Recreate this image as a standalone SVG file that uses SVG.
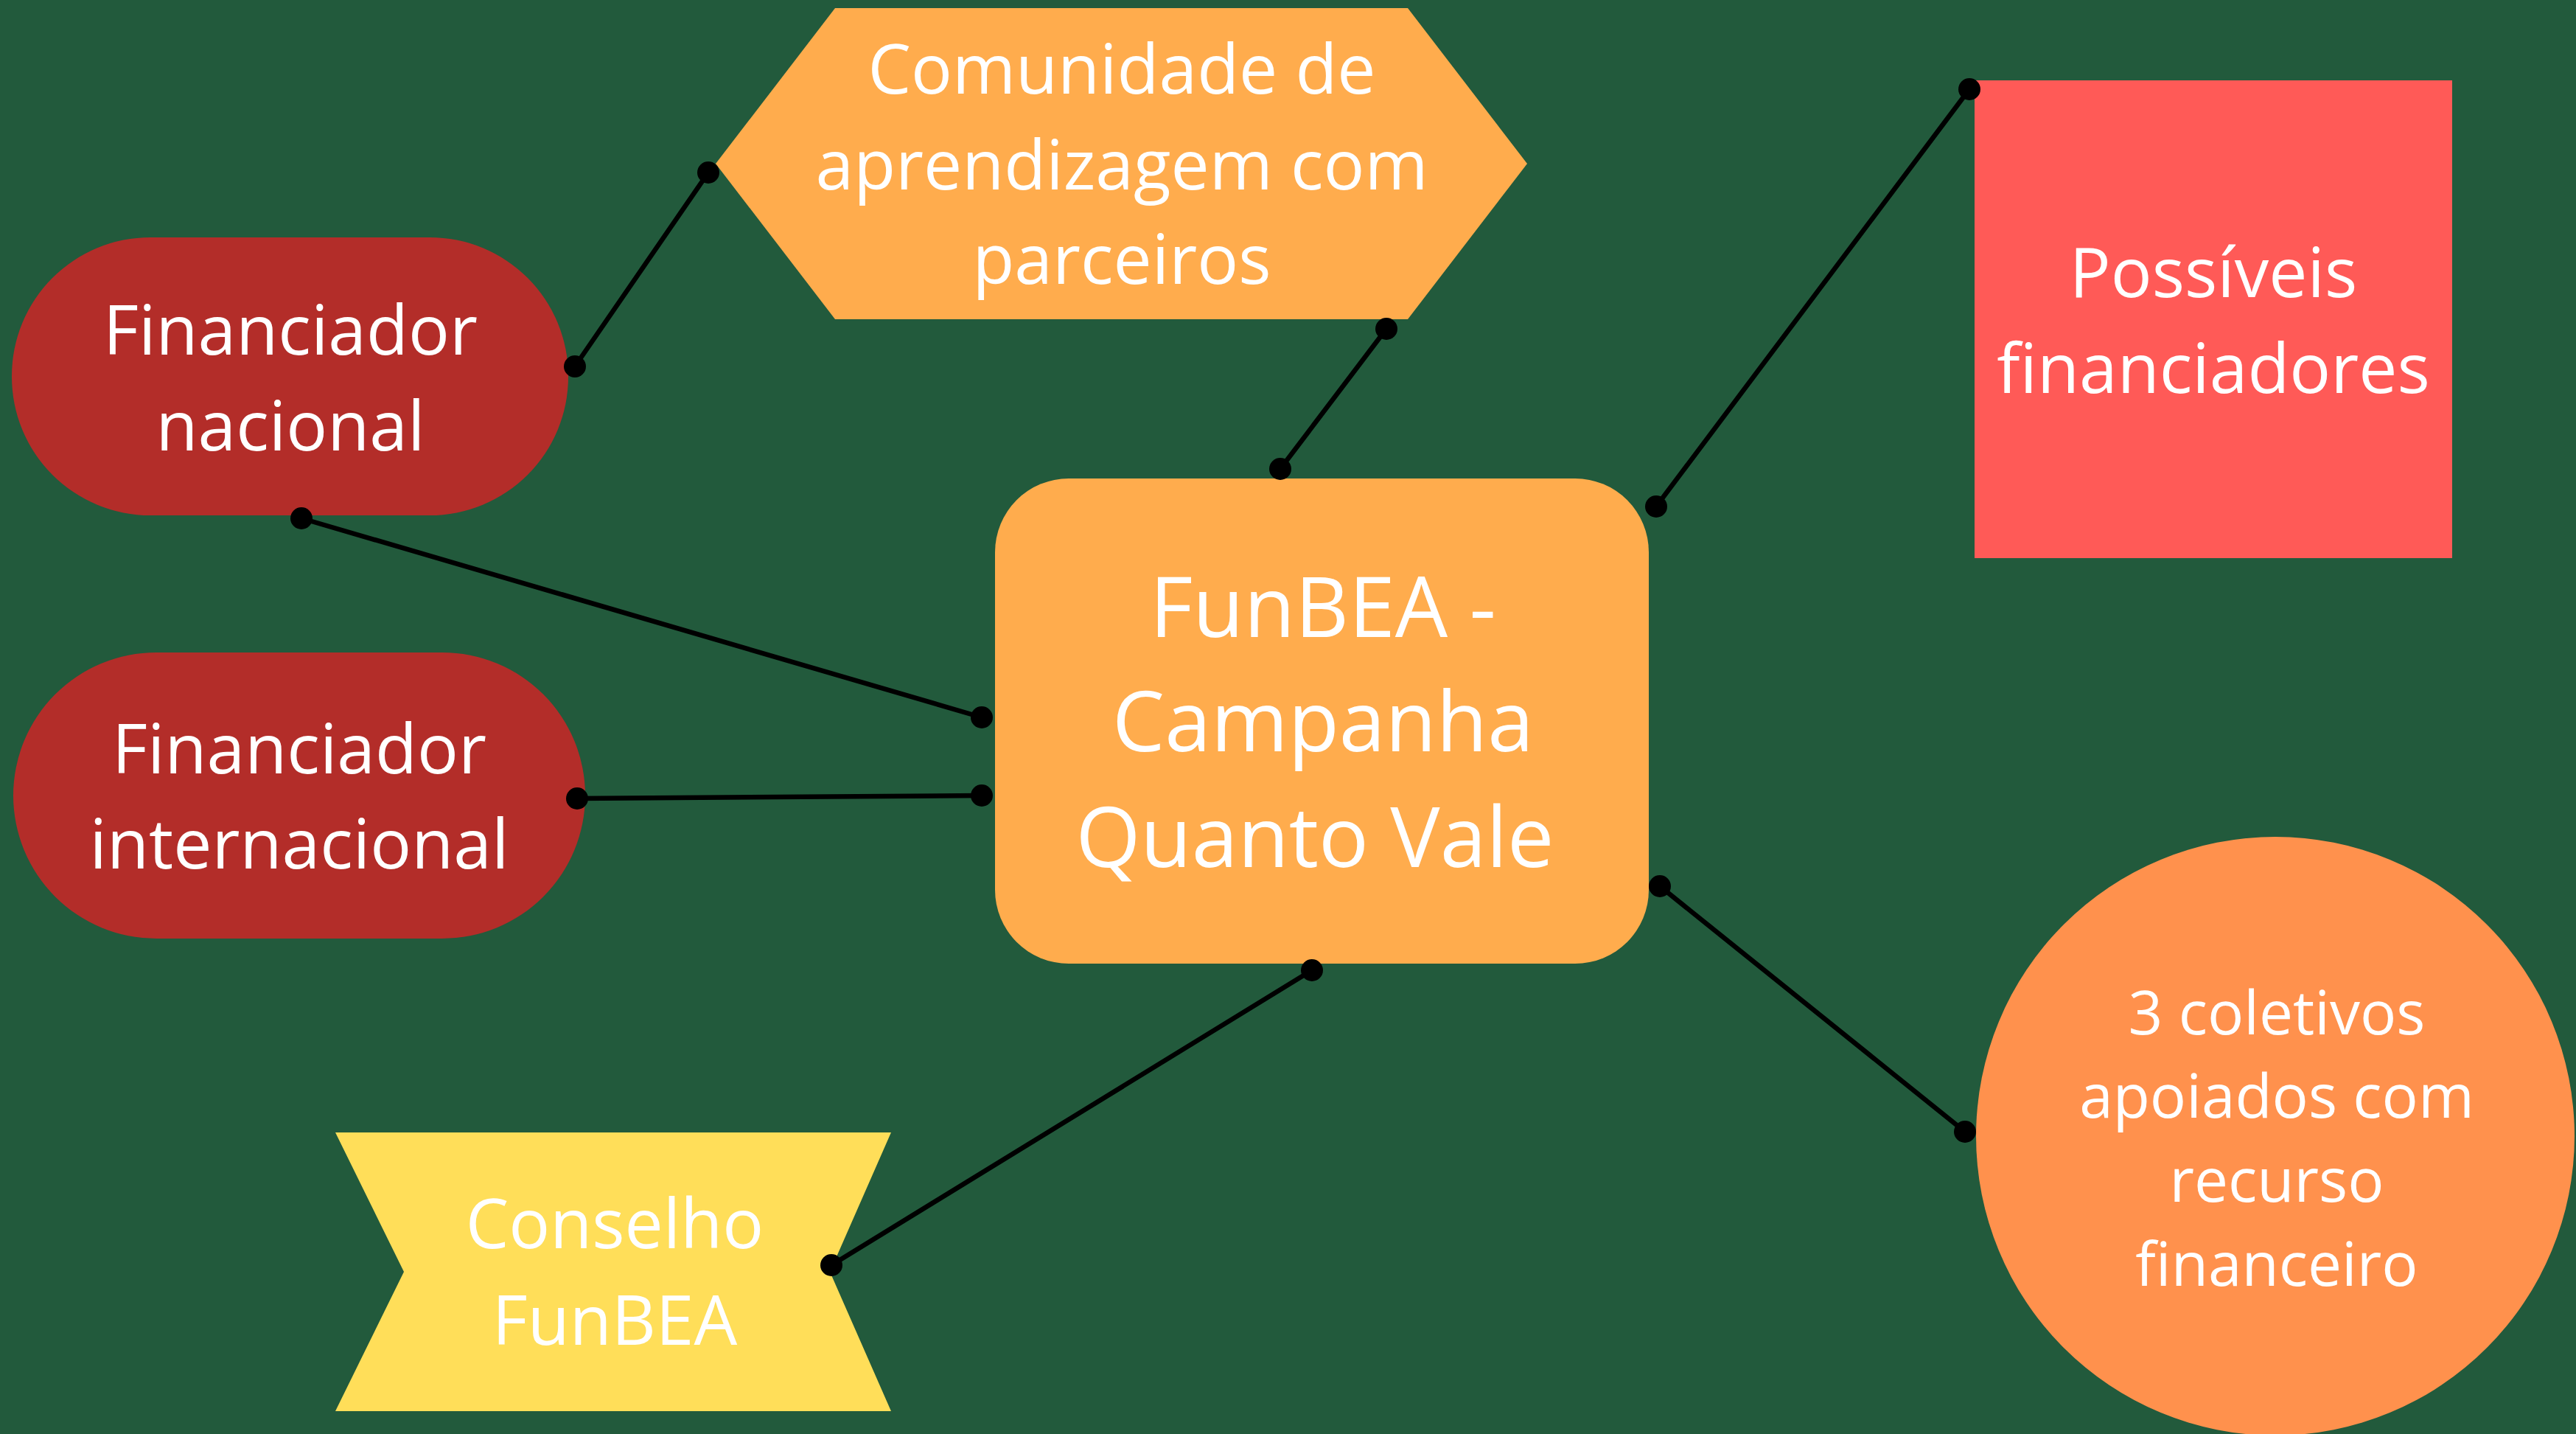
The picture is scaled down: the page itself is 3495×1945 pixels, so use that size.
<svg xmlns="http://www.w3.org/2000/svg" width="3495" height="1945" viewBox="0 0 3495 1945">
<style>
.t{font-family:"Open Sans","Liberation Sans",sans-serif;fill:#FFFFFF;text-anchor:middle;font-weight:400;}
.m{font-size:93px;}
.b{font-size:113px;}
.s{font-size:82px;}
.ln{stroke:#000000;stroke-width:6.5;fill:none;stroke-linecap:round;}
.dt{fill:#000000;}
</style>
<rect x="0" y="0" width="3495" height="1945" fill="#225A3C"/>
<g id="connectors">
<line class="ln" x1="780" y1="497" x2="961" y2="234"/>
<line class="ln" x1="1881" y1="446" x2="1737" y2="636"/>
<line class="ln" x1="409" y1="703" x2="1332" y2="973"/>
<line class="ln" x1="783" y1="1083" x2="1332" y2="1079"/>
<line class="ln" x1="2247" y1="687" x2="2672" y2="121"/>
<line class="ln" x1="2252" y1="1202" x2="2666" y2="1535"/>
<line class="ln" x1="1780" y1="1316" x2="1128" y2="1716"/>
</g>
<g id="node-comunidade">
<polygon points="971,222 1133,11 1910,11 2072,222 1910,433 1133,433" fill="#FFAC4D"/>
<text class="t m" x="1522" y="127">Comunidade de</text>
<text class="t m" x="1522" y="257">aprendizagem com</text>
<text class="t m" x="1522" y="385">parceiros</text>
</g>
<g id="node-financiador-nacional">
<rect x="16" y="322" width="755" height="377" rx="188" ry="188" fill="#B32D29"/>
<text class="t m" x="394" y="481">Financiador</text>
<text class="t m" x="394" y="611">nacional</text>
</g>
<g id="node-financiador-internacional">
<rect x="18" y="885" width="776" height="388" rx="194" ry="194" fill="#B32D29"/>
<text class="t m" x="406" y="1049">Financiador</text>
<text class="t m" x="406" y="1178">internacional</text>
</g>
<g id="node-funbea-campanha">
<rect x="1350" y="649" width="887" height="658" rx="100" ry="100" fill="#FFAC4D"/>
<text class="t b" x="1795" y="864">FunBEA -</text>
<text class="t b" x="1795" y="1019">Campanha</text>
<text class="t b" x="1784" y="1176">Quanto Vale</text>
</g>
<g id="node-possiveis">
<rect x="2679" y="109" width="648" height="648" fill="#FF5A57"/>
<text class="t m" x="3003" y="403">Possíveis</text>
<text class="t m" x="3003" y="533">financiadores</text>
</g>
<g id="node-coletivos">
<circle cx="3087" cy="1541" r="406" fill="#FF914D"/>
<text class="t s" x="3089" y="1403">3 coletivos</text>
<text class="t s" x="3089" y="1516">apoiados com</text>
<text class="t s" x="3089" y="1630">recurso</text>
<text class="t s" x="3089" y="1744">financeiro</text>
</g>
<g id="node-conselho">
<polygon points="455,1536 1209,1536 1126,1725 1209,1914 455,1914 548,1725" fill="#FFDE59"/>
<text class="t m" x="834" y="1693">Conselho</text>
<text class="t m" x="834" y="1824">FunBEA</text>
</g>
<g id="endpoints">
<circle class="dt" cx="780" cy="497" r="15"/>
<circle class="dt" cx="961" cy="234" r="15"/>
<circle class="dt" cx="1881" cy="446" r="15"/>
<circle class="dt" cx="1737" cy="636" r="15"/>
<circle class="dt" cx="409" cy="703" r="15"/>
<circle class="dt" cx="1332" cy="973" r="15"/>
<circle class="dt" cx="783" cy="1083" r="15"/>
<circle class="dt" cx="1332" cy="1079" r="15"/>
<circle class="dt" cx="2247" cy="687" r="15"/>
<circle class="dt" cx="2672" cy="121" r="15"/>
<circle class="dt" cx="2252" cy="1202" r="15"/>
<circle class="dt" cx="2666" cy="1535" r="15"/>
<circle class="dt" cx="1780" cy="1316" r="15"/>
<circle class="dt" cx="1128" cy="1716" r="15"/>
</g>
</svg>
